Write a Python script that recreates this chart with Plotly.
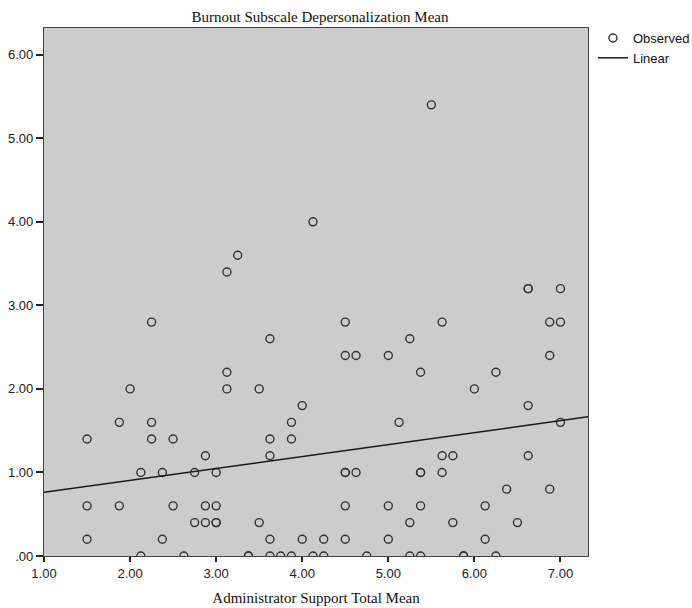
import plotly.graph_objects as go

# Observed data (Administrator Support Total Mean, Burnout Depersonalization Mean)
x_obs = [1.5, 1.5, 1.5, 1.875, 1.875, 2.0, 2.125, 2.125, 2.25, 2.25, 2.25,
         2.375, 2.375, 2.5, 2.5, 2.625, 2.75, 2.75, 2.875, 2.875, 2.875,
         3.0, 3.0, 3.0, 3.0, 3.125, 3.125, 3.125, 3.25, 3.375, 3.375, 3.5, 3.5,
         3.625, 3.625, 3.625, 3.625, 3.625, 3.75, 3.875, 3.875, 3.875,
         4.0, 4.0, 4.125, 4.125, 4.25, 4.25,
         4.5, 4.5, 4.5, 4.5, 4.5, 4.5, 4.625, 4.625, 4.75,
         5.0, 5.0, 5.0, 5.125, 5.25, 5.25, 5.25,
         5.375, 5.375, 5.375, 5.375, 5.375, 5.5, 5.625, 5.625, 5.625,
         5.75, 5.75, 5.875, 5.875, 6.0, 6.125, 6.125, 6.25, 6.25, 6.375, 6.5,
         6.625, 6.625, 6.625, 6.625, 6.875, 6.875, 6.875, 7.0, 7.0, 7.0]
y_obs = [1.4, 0.6, 0.2, 1.6, 0.6, 2.0, 1.0, 0.0, 2.8, 1.6, 1.4,
         1.0, 0.2, 1.4, 0.6, 0.0, 1.0, 0.4, 1.2, 0.6, 0.4,
         1.0, 0.6, 0.4, 0.4, 3.4, 2.2, 2.0, 3.6, 0.0, 0.0, 2.0, 0.4,
         2.6, 1.4, 1.2, 0.2, 0.0, 0.0, 1.6, 1.4, 0.0,
         1.8, 0.2, 4.0, 0.0, 0.2, 0.0,
         2.8, 2.4, 1.0, 1.0, 0.6, 0.2, 2.4, 1.0, 0.0,
         2.4, 0.6, 0.2, 1.6, 2.6, 0.4, 0.0,
         2.2, 1.0, 1.0, 0.6, 0.0, 5.4, 2.8, 1.2, 1.0,
         1.2, 0.4, 0.0, 0.0, 2.0, 0.6, 0.2, 2.2, 0.0, 0.8, 0.4,
         3.2, 3.2, 1.8, 1.2, 2.8, 2.4, 0.8, 3.2, 2.8, 1.6]

# Linear fit
fit_intercept = 0.619
fit_slope = 0.143

x_range = [1.0, 7.32]
y_range = [0.0, 6.32]

tick_vals = [1, 2, 3, 4, 5, 6, 7]
x_tick_text = ["1.00", "2.00", "3.00", "4.00", "5.00", "6.00", "7.00"]
y_tick_vals = [0, 1, 2, 3, 4, 5, 6]
y_tick_text = [".00", "1.00", "2.00", "3.00", "4.00", "5.00", "6.00"]

fit_x = x_range
fit_y = [fit_intercept + fit_slope * v for v in fit_x]

fig = go.Figure()
fig.add_trace(go.Scatter(
    x=x_obs, y=y_obs, mode="markers", name="Observed",
    marker=dict(symbol="circle-open", size=8, color="#333333",
                line=dict(width=1.4, color="#333333")),
    cliponaxis=True,
))
fig.add_trace(go.Scatter(
    x=fit_x, y=fit_y, mode="lines", name="Linear",
    line=dict(color="#1a1a1a", width=1.5),
))

fig.update_layout(
    width=692, height=608,
    margin=dict(l=44, r=104, t=28, b=52, autoexpand=False),
    paper_bgcolor="white",
    plot_bgcolor="#cccccc",
    showlegend=True,
    title=dict(text="Burnout Subscale Depersonalization Mean",
               font=dict(family="Liberation Serif", size=15, color="#111111"),
               x=320 / 692, xanchor="center", xref="container",
               y=1 - 17 / 608, yanchor="middle", yref="container"),
    legend=dict(x=593 / 692, y=1 - 23 / 608, xanchor="left", yanchor="top",
                xref="container", yref="container",
                font=dict(family="Liberation Sans", size=13, color="#111111"),
                bgcolor="rgba(0,0,0,0)", tracegroupgap=0,
                itemwidth=30),
    xaxis=dict(range=x_range, tickvals=tick_vals, ticktext=x_tick_text,
               showgrid=False, zeroline=False, automargin=False,
               showline=True, mirror=True, linecolor="#444444", linewidth=1.2,
               ticks="outside", ticklen=5, tickcolor="#222222", tickwidth=1.5,
               tickfont=dict(family="Liberation Sans", size=13, color="#222222"),
               title=dict(text="Administrator Support Total Mean",
                          font=dict(family="Liberation Serif", size=15, color="#111111"),
                          standoff=12)),
    yaxis=dict(range=y_range, tickvals=y_tick_vals, ticktext=y_tick_text,
               showgrid=False, zeroline=False, automargin=False,
               showline=True, mirror=True, linecolor="#444444", linewidth=1.2,
               ticks="outside", ticklen=7, tickcolor="#222222", tickwidth=1.5,
               tickfont=dict(family="Liberation Sans", size=13, color="#222222")),
)

fig.write_html("out.html")
